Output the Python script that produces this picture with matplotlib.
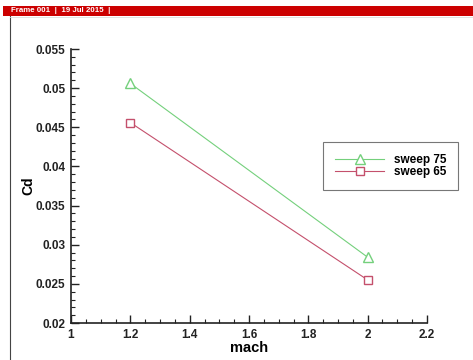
import matplotlib
matplotlib.use("Agg")
import matplotlib.pyplot as plt
from matplotlib.ticker import MultipleLocator
from matplotlib.patches import Rectangle
from matplotlib.lines import Line2D

mach = [1.2, 2.0]
sweep75 = [0.0506, 0.0284]
sweep65 = [0.0456, 0.0255]
series_labels = ["sweep 75", "sweep 65"]
header_text = "Frame 001  |  19 Jul 2015  |"

plt.rcParams['font.family'] = ['Liberation Sans', 'DejaVu Sans']

W, H = 473, 360
fig = plt.figure(figsize=(W / 100, H / 100), dpi=100)
fig.patch.set_facecolor('white')

# header bar and frame
fig.patches.append(Rectangle((3 / W, 1 - 16 / H), 1 - 3 / W, 10 / H, transform=fig.transFigure,
                             facecolor='#cc0000', edgecolor='none', zorder=0))
fig.lines.append(Line2D([10 / W, 10 / W], [0, 1 - 16 / H], transform=fig.transFigure,
                        color='#444444', lw=0.8))
fig.lines.append(Line2D([10 / W, 1], [1 - 17 / H, 1 - 17 / H], transform=fig.transFigure,
                        color='#dddddd', lw=0.6))
fig.text(11 / W, 1 - 11 / H, header_text, color='white', fontsize=5.7, fontweight='bold',
         va='center', ha='left')

ax = fig.add_axes([71 / W, 37 / H, 356 / W, 274 / H])
green = '#74d07c'
red = '#c4506c'
ax.plot(mach, sweep75, color=green, lw=0.8, marker='^', ms=7, mfc='white', mec=green,
        mew=1.0, label=series_labels[0])
ax.plot(mach, sweep65, color=red, lw=0.8, marker='s', ms=6, mfc='white', mec=red,
        mew=1.0, label=series_labels[1])

ax.set_xlim(1, 2.2)
ax.set_ylim(0.02, 0.055)
ax.xaxis.set_major_locator(MultipleLocator(0.2))
ax.xaxis.set_minor_locator(MultipleLocator(0.05))
ax.yaxis.set_major_locator(MultipleLocator(0.005))
ax.yaxis.set_minor_locator(MultipleLocator(0.001))
ax.set_xticks([1, 1.2, 1.4, 1.6, 1.8, 2, 2.2])
ax.set_xticklabels(['1', '1.2', '1.4', '1.6', '1.8', '2', '2.2'])
ax.set_yticks([0.02, 0.025, 0.03, 0.035, 0.04, 0.045, 0.05, 0.055])
ax.set_yticklabels(['0.02', '0.025', '0.03', '0.035', '0.04', '0.045', '0.05', '0.055'])

for s in ['top', 'right']:
    ax.spines[s].set_visible(False)
for s in ['left', 'bottom']:
    ax.spines[s].set_linewidth(1.2)
    ax.spines[s].set_color('#222222')

ax.tick_params(which='major', direction='in', length=6, width=1.0, color='#222222',
               labelsize=8.5, pad=4)
ax.tick_params(which='minor', direction='in', length=3, width=0.8, color='#222222')
for lab in ax.get_xticklabels() + ax.get_yticklabels():
    lab.set_fontweight('bold')
    lab.set_color('#222222')

ax.set_xlabel('mach', fontsize=10.5, fontweight='bold', labelpad=0)
ax.set_ylabel('Cd', fontsize=10, fontweight='bold', labelpad=0)

leg = ax.legend(loc='upper left', bbox_to_anchor=((323 - 71) / 356, (323 - 142) / 274),
                frameon=True, fancybox=False, edgecolor='#555555',
                prop={'weight': 'bold', 'size': 8.5}, handlelength=4.2, borderpad=1.0,
                labelspacing=0.05, borderaxespad=0, handletextpad=0.8)
leg.get_frame().set_linewidth(0.8)

fig.savefig('out.png', dpi=100, facecolor='white')
